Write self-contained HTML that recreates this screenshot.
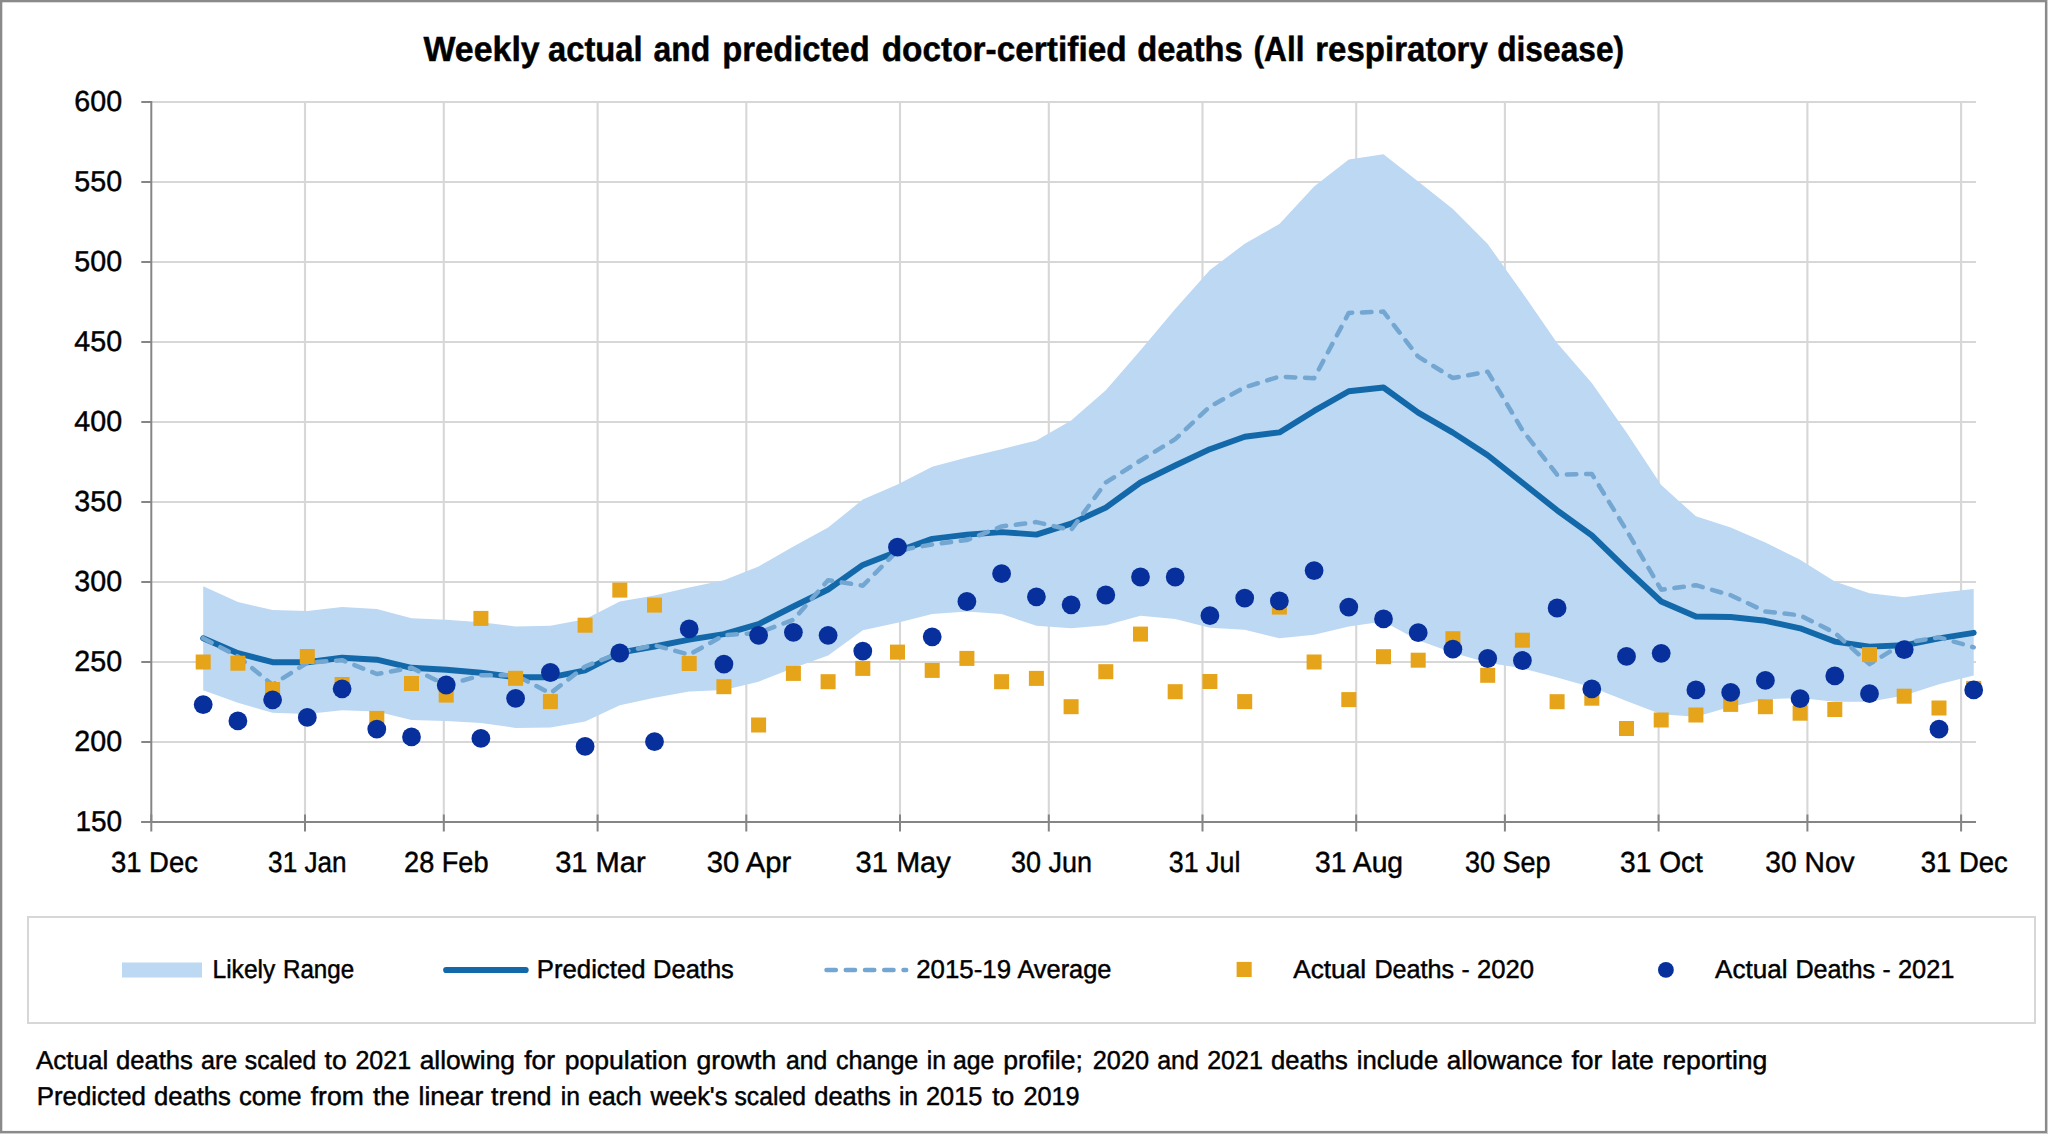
<!DOCTYPE html>
<html><head><meta charset="utf-8"><title>Weekly actual and predicted doctor-certified deaths</title>
<style>html,body{margin:0;padding:0;background:#fff;}body{width:2048px;height:1134px;overflow:hidden;}svg{display:block;}text{font-family:"Liberation Sans",sans-serif;fill:#000;text-rendering:geometricPrecision;}</style>
</head><body>
<svg width="2048" height="1134" viewBox="0 0 2048 1134">
<rect x="0" y="0" width="2048" height="1134" fill="#ffffff"/>
<rect x="0" y="0" width="2048" height="1134" fill="#cdcdcd"/>
<rect x="0" y="0" width="2047" height="1133" fill="#8a8a8a"/>
<rect x="2.3" y="2.3" width="2042.6" height="1128.6" fill="#ffffff"/>
<g stroke="#d7d7d7" stroke-width="2.1" fill="none">
<line x1="151.3" y1="742.0" x2="1976.0" y2="742.0"/>
<line x1="151.3" y1="662.0" x2="1976.0" y2="662.0"/>
<line x1="151.3" y1="582.0" x2="1976.0" y2="582.0"/>
<line x1="151.3" y1="502.0" x2="1976.0" y2="502.0"/>
<line x1="151.3" y1="422.0" x2="1976.0" y2="422.0"/>
<line x1="151.3" y1="342.0" x2="1976.0" y2="342.0"/>
<line x1="151.3" y1="262.0" x2="1976.0" y2="262.0"/>
<line x1="151.3" y1="182.0" x2="1976.0" y2="182.0"/>
<line x1="151.3" y1="102.0" x2="1976.0" y2="102.0"/>
<line x1="305.0" y1="102.0" x2="305.0" y2="822.0"/>
<line x1="443.8" y1="102.0" x2="443.8" y2="822.0"/>
<line x1="597.6" y1="102.0" x2="597.6" y2="822.0"/>
<line x1="746.3" y1="102.0" x2="746.3" y2="822.0"/>
<line x1="900.0" y1="102.0" x2="900.0" y2="822.0"/>
<line x1="1048.8" y1="102.0" x2="1048.8" y2="822.0"/>
<line x1="1202.5" y1="102.0" x2="1202.5" y2="822.0"/>
<line x1="1356.2" y1="102.0" x2="1356.2" y2="822.0"/>
<line x1="1504.9" y1="102.0" x2="1504.9" y2="822.0"/>
<line x1="1658.6" y1="102.0" x2="1658.6" y2="822.0"/>
<line x1="1807.4" y1="102.0" x2="1807.4" y2="822.0"/>
<line x1="1961.1" y1="102.0" x2="1961.1" y2="822.0"/>
</g>
<polygon fill="#bcd8f3" points="203.2,586.3 237.9,601.9 272.6,610.1 307.3,610.9 342.1,607.1 376.8,608.9 411.5,618.2 446.2,619.7 480.9,622.2 515.6,626.4 550.4,625.7 585.1,619.2 619.8,601.4 654.5,595.6 689.2,587.6 723.9,580.2 758.6,566.4 793.4,546.4 828.1,527.6 862.8,499.6 897.5,484.5 932.2,466.7 966.9,457.5 1001.6,449.2 1036.4,440.4 1071.1,420.4 1105.8,390.3 1140.5,350.3 1175.2,308.9 1209.9,270.1 1244.7,243.8 1279.4,223.9 1314.1,186.4 1348.8,159.6 1383.5,154.3 1418.2,181.4 1452.9,208.9 1487.7,244.0 1522.4,292.8 1557.1,342.9 1591.8,383.0 1626.5,432.6 1661.2,485.0 1695.9,516.3 1730.7,527.6 1765.4,542.6 1800.1,559.7 1834.8,581.5 1869.5,593.2 1904.2,597.2 1939.0,592.7 1973.7,589.0 1973.7,675.4 1939.0,684.2 1904.2,695.4 1869.5,701.7 1834.8,701.7 1800.1,697.9 1765.4,699.2 1730.7,706.7 1695.9,716.7 1661.2,714.2 1626.5,700.9 1591.8,687.2 1557.1,677.4 1522.4,668.3 1487.7,662.7 1452.9,652.7 1418.2,640.2 1383.5,621.4 1348.8,626.4 1314.1,634.7 1279.4,638.2 1244.7,629.7 1209.9,627.7 1175.2,619.0 1140.5,615.8 1105.8,625.3 1071.1,628.3 1036.4,625.8 1001.6,614.0 966.9,611.5 932.2,614.0 897.5,622.8 862.8,630.3 828.1,655.4 793.4,667.9 758.6,681.7 723.9,689.9 689.2,691.6 654.5,697.8 619.8,705.3 585.1,721.6 550.4,727.4 515.6,727.9 480.9,722.9 446.2,720.9 411.5,719.9 376.8,711.6 342.1,710.3 307.3,714.1 272.6,712.8 237.9,702.8 203.2,690.3"/>
<g stroke="#858585" stroke-width="2" fill="none">
<line x1="151.3" y1="101.0" x2="151.3" y2="823.0"/>
<line x1="141.3" y1="822.0" x2="1976.0" y2="822.0"/>
<line x1="141.3" y1="822.0" x2="151.3" y2="822.0"/>
<line x1="141.3" y1="742.0" x2="151.3" y2="742.0"/>
<line x1="141.3" y1="662.0" x2="151.3" y2="662.0"/>
<line x1="141.3" y1="582.0" x2="151.3" y2="582.0"/>
<line x1="141.3" y1="502.0" x2="151.3" y2="502.0"/>
<line x1="141.3" y1="422.0" x2="151.3" y2="422.0"/>
<line x1="141.3" y1="342.0" x2="151.3" y2="342.0"/>
<line x1="141.3" y1="262.0" x2="151.3" y2="262.0"/>
<line x1="141.3" y1="182.0" x2="151.3" y2="182.0"/>
<line x1="141.3" y1="102.0" x2="151.3" y2="102.0"/>
<line x1="151.3" y1="814.5" x2="151.3" y2="831.5"/>
<line x1="305.0" y1="814.5" x2="305.0" y2="831.5"/>
<line x1="443.8" y1="814.5" x2="443.8" y2="831.5"/>
<line x1="597.6" y1="814.5" x2="597.6" y2="831.5"/>
<line x1="746.3" y1="814.5" x2="746.3" y2="831.5"/>
<line x1="900.0" y1="814.5" x2="900.0" y2="831.5"/>
<line x1="1048.8" y1="814.5" x2="1048.8" y2="831.5"/>
<line x1="1202.5" y1="814.5" x2="1202.5" y2="831.5"/>
<line x1="1356.2" y1="814.5" x2="1356.2" y2="831.5"/>
<line x1="1504.9" y1="814.5" x2="1504.9" y2="831.5"/>
<line x1="1658.6" y1="814.5" x2="1658.6" y2="831.5"/>
<line x1="1807.4" y1="814.5" x2="1807.4" y2="831.5"/>
<line x1="1961.1" y1="814.5" x2="1961.1" y2="831.5"/>
</g>
<polyline fill="none" stroke="#1268a8" stroke-width="5.9" stroke-linecap="round" stroke-linejoin="round" points="203.2,638.2 237.9,653.2 272.6,662.2 307.3,662.2 342.1,657.7 376.8,659.7 411.5,667.8 446.2,669.8 480.9,672.8 515.6,677.3 550.4,677.3 585.1,670.3 619.8,652.7 654.5,646.5 689.2,639.7 723.9,634.1 758.6,624.1 793.4,606.5 828.1,589.5 862.8,564.9 897.5,551.4 932.2,538.9 966.9,534.6 1001.6,532.1 1036.4,534.6 1071.1,523.6 1105.8,507.6 1140.5,482.5 1175.2,465.5 1209.9,449.2 1244.7,436.7 1279.4,432.4 1314.1,410.9 1348.8,391.3 1383.5,387.5 1418.2,412.6 1452.9,432.6 1487.7,455.2 1522.4,482.7 1557.1,510.3 1591.8,535.3 1626.5,569.1 1661.2,601.5 1695.9,616.5 1730.7,617.0 1765.4,620.8 1800.1,628.3 1834.8,641.6 1869.5,646.6 1904.2,645.3 1939.0,638.3 1973.7,632.8"/>
<polyline fill="none" stroke="#73a6d1" stroke-width="4.5" stroke-linecap="round" stroke-linejoin="round" stroke-dasharray="9.5 9.75" points="203.2,638.2 237.9,656.5 272.6,684.8 307.3,662.7 342.1,660.2 376.8,674.0 411.5,667.8 446.2,685.3 480.9,675.3 515.6,675.3 550.4,693.3 585.1,666.5 619.8,652.7 654.5,645.2 689.2,654.7 723.9,635.3 758.6,632.8 793.4,619.8 828.1,580.2 862.8,585.7 897.5,550.7 932.2,544.4 966.9,540.1 1001.6,526.4 1036.4,522.1 1071.1,530.1 1105.8,482.5 1140.5,460.5 1175.2,439.2 1209.9,406.6 1244.7,387.3 1279.4,376.6 1314.1,378.3 1348.8,312.9 1383.5,311.6 1418.2,356.7 1452.9,378.0 1487.7,371.7 1522.4,430.1 1557.1,474.7 1591.8,473.9 1626.5,530.3 1661.2,589.7 1695.9,585.2 1730.7,595.2 1765.4,611.5 1800.1,615.3 1834.8,632.8 1869.5,664.1 1904.2,642.8 1939.0,637.3 1973.7,647.3"/>
<g fill="#e5a41a">
<rect x="195.7" y="654.5" width="15" height="15"/>
<rect x="230.4" y="655.7" width="15" height="15"/>
<rect x="265.1" y="682.0" width="15" height="15"/>
<rect x="299.8" y="649.0" width="15" height="15"/>
<rect x="334.6" y="677.0" width="15" height="15"/>
<rect x="369.3" y="710.9" width="15" height="15"/>
<rect x="404.0" y="676.0" width="15" height="15"/>
<rect x="438.7" y="687.6" width="15" height="15"/>
<rect x="473.4" y="610.9" width="15" height="15"/>
<rect x="508.1" y="670.8" width="15" height="15"/>
<rect x="542.9" y="694.1" width="15" height="15"/>
<rect x="577.6" y="617.7" width="15" height="15"/>
<rect x="612.3" y="582.6" width="15" height="15"/>
<rect x="647.0" y="597.6" width="15" height="15"/>
<rect x="681.7" y="656.0" width="15" height="15"/>
<rect x="716.4" y="679.2" width="15" height="15"/>
<rect x="751.1" y="717.5" width="15" height="15"/>
<rect x="785.9" y="665.9" width="15" height="15"/>
<rect x="820.6" y="674.2" width="15" height="15"/>
<rect x="855.3" y="660.9" width="15" height="15"/>
<rect x="890.0" y="644.6" width="15" height="15"/>
<rect x="924.7" y="662.9" width="15" height="15"/>
<rect x="959.4" y="650.9" width="15" height="15"/>
<rect x="994.1" y="674.2" width="15" height="15"/>
<rect x="1028.9" y="670.9" width="15" height="15"/>
<rect x="1063.6" y="699.2" width="15" height="15"/>
<rect x="1098.3" y="664.2" width="15" height="15"/>
<rect x="1133.0" y="626.6" width="15" height="15"/>
<rect x="1167.7" y="684.2" width="15" height="15"/>
<rect x="1202.4" y="674.0" width="15" height="15"/>
<rect x="1237.2" y="694.1" width="15" height="15"/>
<rect x="1271.9" y="599.6" width="15" height="15"/>
<rect x="1306.6" y="654.5" width="15" height="15"/>
<rect x="1341.3" y="692.1" width="15" height="15"/>
<rect x="1376.0" y="649.2" width="15" height="15"/>
<rect x="1410.7" y="652.7" width="15" height="15"/>
<rect x="1445.4" y="631.2" width="15" height="15"/>
<rect x="1480.2" y="667.8" width="15" height="15"/>
<rect x="1514.9" y="632.7" width="15" height="15"/>
<rect x="1549.6" y="694.2" width="15" height="15"/>
<rect x="1584.3" y="690.7" width="15" height="15"/>
<rect x="1619.0" y="721.0" width="15" height="15"/>
<rect x="1653.7" y="712.5" width="15" height="15"/>
<rect x="1688.4" y="707.5" width="15" height="15"/>
<rect x="1723.2" y="696.9" width="15" height="15"/>
<rect x="1757.9" y="699.2" width="15" height="15"/>
<rect x="1792.6" y="705.7" width="15" height="15"/>
<rect x="1827.3" y="702.0" width="15" height="15"/>
<rect x="1862.0" y="647.1" width="15" height="15"/>
<rect x="1896.7" y="688.7" width="15" height="15"/>
<rect x="1931.5" y="700.5" width="15" height="15"/>
<rect x="1966.2" y="680.9" width="15" height="15"/>
</g>
<g fill="#07309c">
<circle cx="203.2" cy="704.6" r="9.4"/>
<circle cx="237.9" cy="720.9" r="9.4"/>
<circle cx="272.6" cy="699.8" r="9.4"/>
<circle cx="307.3" cy="717.4" r="9.4"/>
<circle cx="342.1" cy="688.8" r="9.4"/>
<circle cx="376.8" cy="729.1" r="9.4"/>
<circle cx="411.5" cy="736.9" r="9.4"/>
<circle cx="446.2" cy="685.0" r="9.4"/>
<circle cx="480.9" cy="738.4" r="9.4"/>
<circle cx="515.6" cy="698.3" r="9.4"/>
<circle cx="550.4" cy="672.5" r="9.4"/>
<circle cx="585.1" cy="746.4" r="9.4"/>
<circle cx="619.8" cy="653.0" r="9.4"/>
<circle cx="654.5" cy="741.7" r="9.4"/>
<circle cx="689.2" cy="628.9" r="9.4"/>
<circle cx="723.9" cy="664.1" r="9.4"/>
<circle cx="758.6" cy="635.3" r="9.4"/>
<circle cx="793.4" cy="632.3" r="9.4"/>
<circle cx="828.1" cy="635.3" r="9.4"/>
<circle cx="862.8" cy="651.1" r="9.4"/>
<circle cx="897.5" cy="547.2" r="9.4"/>
<circle cx="932.2" cy="636.8" r="9.4"/>
<circle cx="966.9" cy="601.5" r="9.4"/>
<circle cx="1001.6" cy="573.7" r="9.4"/>
<circle cx="1036.4" cy="596.8" r="9.4"/>
<circle cx="1071.1" cy="604.8" r="9.4"/>
<circle cx="1105.8" cy="595.0" r="9.4"/>
<circle cx="1140.5" cy="577.0" r="9.4"/>
<circle cx="1175.2" cy="577.0" r="9.4"/>
<circle cx="1209.9" cy="615.7" r="9.4"/>
<circle cx="1244.7" cy="598.1" r="9.4"/>
<circle cx="1279.4" cy="600.9" r="9.4"/>
<circle cx="1314.1" cy="570.6" r="9.4"/>
<circle cx="1348.8" cy="607.1" r="9.4"/>
<circle cx="1383.5" cy="618.9" r="9.4"/>
<circle cx="1418.2" cy="632.7" r="9.4"/>
<circle cx="1452.9" cy="649.2" r="9.4"/>
<circle cx="1487.7" cy="658.5" r="9.4"/>
<circle cx="1522.4" cy="660.5" r="9.4"/>
<circle cx="1557.1" cy="608.0" r="9.4"/>
<circle cx="1591.8" cy="688.9" r="9.4"/>
<circle cx="1626.5" cy="656.4" r="9.4"/>
<circle cx="1661.2" cy="653.3" r="9.4"/>
<circle cx="1695.9" cy="689.9" r="9.4"/>
<circle cx="1730.7" cy="692.4" r="9.4"/>
<circle cx="1765.4" cy="680.4" r="9.4"/>
<circle cx="1800.1" cy="698.7" r="9.4"/>
<circle cx="1834.8" cy="675.9" r="9.4"/>
<circle cx="1869.5" cy="693.7" r="9.4"/>
<circle cx="1904.2" cy="649.6" r="9.4"/>
<circle cx="1939.0" cy="729.2" r="9.4"/>
<circle cx="1973.7" cy="689.9" r="9.4"/>
</g>
<text x="423.45" y="61.10" font-size="34.8" font-weight="bold" textLength="116.24" lengthAdjust="spacingAndGlyphs" stroke="#000" stroke-width="0.45">Weekly</text>
<text x="547.95" y="61.10" font-size="34.8" font-weight="bold" textLength="94.79" lengthAdjust="spacingAndGlyphs" stroke="#000" stroke-width="0.45">actual</text>
<text x="653.45" y="61.10" font-size="34.8" font-weight="bold" textLength="56.88" lengthAdjust="spacingAndGlyphs" stroke="#000" stroke-width="0.45">and</text>
<text x="722.20" y="61.10" font-size="34.8" font-weight="bold" textLength="147.52" lengthAdjust="spacingAndGlyphs" stroke="#000" stroke-width="0.45">predicted</text>
<text x="881.70" y="61.10" font-size="34.8" font-weight="bold" textLength="244.96" lengthAdjust="spacingAndGlyphs" stroke="#000" stroke-width="0.45">doctor-certified</text>
<text x="1137.20" y="61.10" font-size="34.8" font-weight="bold" textLength="105.61" lengthAdjust="spacingAndGlyphs" stroke="#000" stroke-width="0.45">deaths</text>
<text x="1253.52" y="61.10" font-size="34.8" font-weight="bold" textLength="50.95" lengthAdjust="spacingAndGlyphs" stroke="#000" stroke-width="0.45">(All</text>
<text x="1315.20" y="61.10" font-size="34.8" font-weight="bold" textLength="172.66" lengthAdjust="spacingAndGlyphs" stroke="#000" stroke-width="0.45">respiratory</text>
<text x="1497.20" y="61.10" font-size="34.8" font-weight="bold" textLength="126.94" lengthAdjust="spacingAndGlyphs" stroke="#000" stroke-width="0.45">disease)</text>
<text x="75.40" y="831.40" font-size="28.9" textLength="46.69" lengthAdjust="spacingAndGlyphs" stroke="#000" stroke-width="0.45">150</text>
<text x="74.30" y="751.40" font-size="28.9" textLength="47.79" lengthAdjust="spacingAndGlyphs" stroke="#000" stroke-width="0.45">200</text>
<text x="74.30" y="671.40" font-size="28.9" textLength="47.79" lengthAdjust="spacingAndGlyphs" stroke="#000" stroke-width="0.45">250</text>
<text x="74.30" y="591.40" font-size="28.9" textLength="47.79" lengthAdjust="spacingAndGlyphs" stroke="#000" stroke-width="0.45">300</text>
<text x="74.30" y="511.40" font-size="28.9" textLength="47.79" lengthAdjust="spacingAndGlyphs" stroke="#000" stroke-width="0.45">350</text>
<text x="74.30" y="431.40" font-size="28.9" textLength="47.79" lengthAdjust="spacingAndGlyphs" stroke="#000" stroke-width="0.45">400</text>
<text x="74.30" y="351.40" font-size="28.9" textLength="47.79" lengthAdjust="spacingAndGlyphs" stroke="#000" stroke-width="0.45">450</text>
<text x="74.30" y="271.40" font-size="28.9" textLength="47.79" lengthAdjust="spacingAndGlyphs" stroke="#000" stroke-width="0.45">500</text>
<text x="74.30" y="191.40" font-size="28.9" textLength="47.79" lengthAdjust="spacingAndGlyphs" stroke="#000" stroke-width="0.45">550</text>
<text x="74.30" y="111.40" font-size="28.9" textLength="47.79" lengthAdjust="spacingAndGlyphs" stroke="#000" stroke-width="0.45">600</text>
<text x="110.90" y="872.40" font-size="28.9" textLength="86.99" lengthAdjust="spacingAndGlyphs" stroke="#000" stroke-width="0.45">31 Dec</text>
<text x="268.10" y="872.40" font-size="28.9" textLength="78.57" lengthAdjust="spacingAndGlyphs" stroke="#000" stroke-width="0.45">31 Jan</text>
<text x="404.10" y="872.40" font-size="28.9" textLength="84.44" lengthAdjust="spacingAndGlyphs" stroke="#000" stroke-width="0.45">28 Feb</text>
<text x="555.20" y="872.40" font-size="28.9" textLength="90.51" lengthAdjust="spacingAndGlyphs" stroke="#000" stroke-width="0.45">31 Mar</text>
<text x="706.80" y="872.40" font-size="28.9" textLength="84.39" lengthAdjust="spacingAndGlyphs" stroke="#000" stroke-width="0.45">30 Apr</text>
<text x="855.50" y="872.40" font-size="28.9" textLength="95.30" lengthAdjust="spacingAndGlyphs" stroke="#000" stroke-width="0.45">31 May</text>
<text x="1011.00" y="872.40" font-size="28.9" textLength="80.97" lengthAdjust="spacingAndGlyphs" stroke="#000" stroke-width="0.45">30 Jun</text>
<text x="1168.80" y="872.40" font-size="28.9" textLength="71.60" lengthAdjust="spacingAndGlyphs" stroke="#000" stroke-width="0.45">31 Jul</text>
<text x="1315.10" y="872.40" font-size="28.9" textLength="87.96" lengthAdjust="spacingAndGlyphs" stroke="#000" stroke-width="0.45">31 Aug</text>
<text x="1464.90" y="872.40" font-size="28.9" textLength="85.62" lengthAdjust="spacingAndGlyphs" stroke="#000" stroke-width="0.45">30 Sep</text>
<text x="1620.10" y="872.40" font-size="28.9" textLength="82.84" lengthAdjust="spacingAndGlyphs" stroke="#000" stroke-width="0.45">31 Oct</text>
<text x="1765.30" y="872.40" font-size="28.9" textLength="89.39" lengthAdjust="spacingAndGlyphs" stroke="#000" stroke-width="0.45">30 Nov</text>
<text x="1920.80" y="872.40" font-size="28.9" textLength="86.99" lengthAdjust="spacingAndGlyphs" stroke="#000" stroke-width="0.45">31 Dec</text>
<rect x="28" y="917" width="2007" height="106" fill="#ffffff" stroke="#d7d7d7" stroke-width="2"/>
<rect x="122" y="962.5" width="80" height="15" fill="#bcd8f3"/>
<text x="212.50" y="978.10" font-size="25.9" textLength="62.78" lengthAdjust="spacingAndGlyphs" stroke="#000" stroke-width="0.45">Likely</text>
<text x="282.95" y="978.10" font-size="25.9" textLength="71.21" lengthAdjust="spacingAndGlyphs" stroke="#000" stroke-width="0.45">Range</text>
<line x1="446.2" y1="970.0" x2="525.6" y2="970.0" stroke="#1268a8" stroke-width="6.2" stroke-linecap="round"/>
<text x="536.70" y="978.10" font-size="25.9" textLength="108.90" lengthAdjust="spacingAndGlyphs" stroke="#000" stroke-width="0.45">Predicted</text>
<text x="653.10" y="978.10" font-size="25.9" textLength="80.79" lengthAdjust="spacingAndGlyphs" stroke="#000" stroke-width="0.45">Deaths</text>
<line x1="826.5" y1="970.0" x2="906.2" y2="970.0" stroke="#73a6d1" stroke-width="4.5" stroke-linecap="round" stroke-dasharray="9.3 9.95"/>
<text x="916.20" y="978.10" font-size="25.9" textLength="94.83" lengthAdjust="spacingAndGlyphs" stroke="#000" stroke-width="0.45">2015-19</text>
<text x="1017.40" y="978.10" font-size="25.9" textLength="94.08" lengthAdjust="spacingAndGlyphs" stroke="#000" stroke-width="0.45">Average</text>
<rect x="1236.6" y="961.9" width="15.1" height="15.1" fill="#e5a41a"/>
<text x="1293.20" y="978.10" font-size="25.9" textLength="72.92" lengthAdjust="spacingAndGlyphs" stroke="#000" stroke-width="0.45">Actual</text>
<text x="1374.40" y="978.10" font-size="25.9" textLength="79.69" lengthAdjust="spacingAndGlyphs" stroke="#000" stroke-width="0.45">Deaths</text>
<text x="1461.42" y="978.10" font-size="25.9" textLength="8.17" lengthAdjust="spacingAndGlyphs" stroke="#000" stroke-width="0.45">-</text>
<text x="1476.90" y="978.10" font-size="25.9" textLength="57.09" lengthAdjust="spacingAndGlyphs" stroke="#000" stroke-width="0.45">2020</text>
<circle cx="1665.9" cy="969.9" r="7.9" fill="#07309c"/>
<text x="1715.10" y="978.10" font-size="25.9" textLength="72.42" lengthAdjust="spacingAndGlyphs" stroke="#000" stroke-width="0.45">Actual</text>
<text x="1795.40" y="978.10" font-size="25.9" textLength="79.79" lengthAdjust="spacingAndGlyphs" stroke="#000" stroke-width="0.45">Deaths</text>
<text x="1882.54" y="978.10" font-size="25.9" textLength="8.13" lengthAdjust="spacingAndGlyphs" stroke="#000" stroke-width="0.45">-</text>
<text x="1897.90" y="978.10" font-size="25.9" textLength="56.49" lengthAdjust="spacingAndGlyphs" stroke="#000" stroke-width="0.45">2021</text>
<text x="35.95" y="1069.40" font-size="25.9" textLength="72.37" lengthAdjust="spacingAndGlyphs" stroke="#000" stroke-width="0.45">Actual</text>
<text x="115.95" y="1069.40" font-size="25.9" textLength="76.92" lengthAdjust="spacingAndGlyphs" stroke="#000" stroke-width="0.45">deaths</text>
<text x="200.95" y="1069.40" font-size="25.9" textLength="36.43" lengthAdjust="spacingAndGlyphs" stroke="#000" stroke-width="0.45">are</text>
<text x="244.78" y="1069.40" font-size="25.9" textLength="71.60" lengthAdjust="spacingAndGlyphs" stroke="#000" stroke-width="0.45">scaled</text>
<text x="324.64" y="1069.40" font-size="25.9" textLength="22.15" lengthAdjust="spacingAndGlyphs" stroke="#000" stroke-width="0.45">to</text>
<text x="355.45" y="1069.40" font-size="25.9" textLength="55.69" lengthAdjust="spacingAndGlyphs" stroke="#000" stroke-width="0.45">2021</text>
<text x="419.70" y="1069.40" font-size="25.9" textLength="95.30" lengthAdjust="spacingAndGlyphs" stroke="#000" stroke-width="0.45">allowing</text>
<text x="524.17" y="1069.40" font-size="25.9" textLength="31.00" lengthAdjust="spacingAndGlyphs" stroke="#000" stroke-width="0.45">for</text>
<text x="564.70" y="1069.40" font-size="25.9" textLength="122.61" lengthAdjust="spacingAndGlyphs" stroke="#000" stroke-width="0.45">population</text>
<text x="696.53" y="1069.40" font-size="25.9" textLength="79.74" lengthAdjust="spacingAndGlyphs" stroke="#000" stroke-width="0.45">growth</text>
<text x="785.91" y="1069.40" font-size="25.9" textLength="41.33" lengthAdjust="spacingAndGlyphs" stroke="#000" stroke-width="0.45">and</text>
<text x="835.95" y="1069.40" font-size="25.9" textLength="82.40" lengthAdjust="spacingAndGlyphs" stroke="#000" stroke-width="0.45">change</text>
<text x="926.85" y="1069.40" font-size="25.9" textLength="19.28" lengthAdjust="spacingAndGlyphs" stroke="#000" stroke-width="0.45">in</text>
<text x="953.03" y="1069.40" font-size="25.9" textLength="41.33" lengthAdjust="spacingAndGlyphs" stroke="#000" stroke-width="0.45">age</text>
<text x="1003.15" y="1069.40" font-size="25.9" textLength="79.74" lengthAdjust="spacingAndGlyphs" stroke="#000" stroke-width="0.45">profile;</text>
<text x="1092.70" y="1069.40" font-size="25.9" textLength="56.44" lengthAdjust="spacingAndGlyphs" stroke="#000" stroke-width="0.45">2020</text>
<text x="1157.20" y="1069.40" font-size="25.9" textLength="41.74" lengthAdjust="spacingAndGlyphs" stroke="#000" stroke-width="0.45">and</text>
<text x="1207.20" y="1069.40" font-size="25.9" textLength="55.69" lengthAdjust="spacingAndGlyphs" stroke="#000" stroke-width="0.45">2021</text>
<text x="1270.95" y="1069.40" font-size="25.9" textLength="76.92" lengthAdjust="spacingAndGlyphs" stroke="#000" stroke-width="0.45">deaths</text>
<text x="1356.70" y="1069.40" font-size="25.9" textLength="81.50" lengthAdjust="spacingAndGlyphs" stroke="#000" stroke-width="0.45">include</text>
<text x="1446.70" y="1069.40" font-size="25.9" textLength="115.99" lengthAdjust="spacingAndGlyphs" stroke="#000" stroke-width="0.45">allowance</text>
<text x="1571.42" y="1069.40" font-size="25.9" textLength="31.00" lengthAdjust="spacingAndGlyphs" stroke="#000" stroke-width="0.45">for</text>
<text x="1611.04" y="1069.40" font-size="25.9" textLength="42.83" lengthAdjust="spacingAndGlyphs" stroke="#000" stroke-width="0.45">late</text>
<text x="1662.51" y="1069.40" font-size="25.9" textLength="104.85" lengthAdjust="spacingAndGlyphs" stroke="#000" stroke-width="0.45">reporting</text>
<text x="36.70" y="1104.60" font-size="25.9" textLength="109.20" lengthAdjust="spacingAndGlyphs" stroke="#000" stroke-width="0.45">Predicted</text>
<text x="153.95" y="1104.60" font-size="25.9" textLength="76.92" lengthAdjust="spacingAndGlyphs" stroke="#000" stroke-width="0.45">deaths</text>
<text x="238.95" y="1104.60" font-size="25.9" textLength="62.68" lengthAdjust="spacingAndGlyphs" stroke="#000" stroke-width="0.45">come</text>
<text x="310.78" y="1104.60" font-size="25.9" textLength="52.94" lengthAdjust="spacingAndGlyphs" stroke="#000" stroke-width="0.45">from</text>
<text x="372.95" y="1104.60" font-size="25.9" textLength="36.74" lengthAdjust="spacingAndGlyphs" stroke="#000" stroke-width="0.45">the</text>
<text x="418.55" y="1104.60" font-size="25.9" textLength="64.75" lengthAdjust="spacingAndGlyphs" stroke="#000" stroke-width="0.45">linear</text>
<text x="491.09" y="1104.60" font-size="25.9" textLength="60.34" lengthAdjust="spacingAndGlyphs" stroke="#000" stroke-width="0.45">trend</text>
<text x="560.84" y="1104.60" font-size="25.9" textLength="19.21" lengthAdjust="spacingAndGlyphs" stroke="#000" stroke-width="0.45">in</text>
<text x="588.31" y="1104.60" font-size="25.9" textLength="53.52" lengthAdjust="spacingAndGlyphs" stroke="#000" stroke-width="0.45">each</text>
<text x="650.54" y="1104.60" font-size="25.9" textLength="76.92" lengthAdjust="spacingAndGlyphs" stroke="#000" stroke-width="0.45">week's</text>
<text x="734.54" y="1104.60" font-size="25.9" textLength="71.34" lengthAdjust="spacingAndGlyphs" stroke="#000" stroke-width="0.45">scaled</text>
<text x="814.20" y="1104.60" font-size="25.9" textLength="76.67" lengthAdjust="spacingAndGlyphs" stroke="#000" stroke-width="0.45">deaths</text>
<text x="898.89" y="1104.60" font-size="25.9" textLength="19.21" lengthAdjust="spacingAndGlyphs" stroke="#000" stroke-width="0.45">in</text>
<text x="925.95" y="1104.60" font-size="25.9" textLength="56.44" lengthAdjust="spacingAndGlyphs" stroke="#000" stroke-width="0.45">2015</text>
<text x="992.18" y="1104.60" font-size="25.9" textLength="22.08" lengthAdjust="spacingAndGlyphs" stroke="#000" stroke-width="0.45">to</text>
<text x="1023.45" y="1104.60" font-size="25.9" textLength="56.19" lengthAdjust="spacingAndGlyphs" stroke="#000" stroke-width="0.45">2019</text>
</svg></body></html>
